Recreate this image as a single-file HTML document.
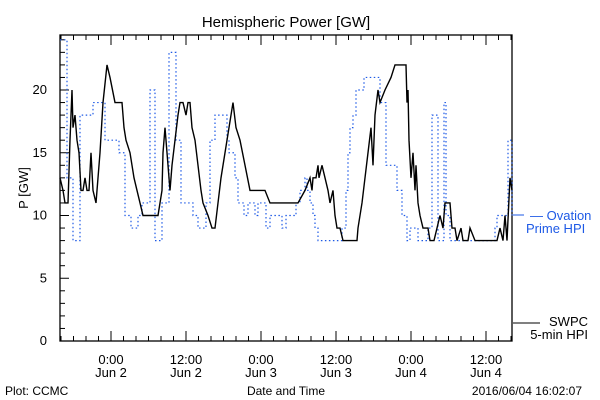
<!DOCTYPE html>
<html><head><meta charset="utf-8"><style>
html,body{margin:0;padding:0;background:#fff;}
svg{display:block;font-family:"Liberation Sans",sans-serif;}
</style></head><body>
<svg id="chart" width="600" height="400">
<text x="286" y="27" font-size="15" text-anchor="middle">Hemispheric Power [GW]</text>
<text x="28" y="188" font-size="13" text-anchor="middle" transform="rotate(-90 28 188)">P [GW]</text>
<text x="286" y="395" font-size="12" text-anchor="middle">Date and Time</text>
<text x="5" y="395" font-size="12">Plot: CCMC</text>
<text x="582" y="395" font-size="12" text-anchor="end">2016/06/04 16:02:07</text>
<g>
<line x1="513" y1="215" x2="524" y2="215" stroke="#1e5ae6" stroke-width="1"/>
<text x="530" y="220" font-size="13" fill="#1e5ae6">— Ovation</text>
<text x="526" y="233" font-size="13" fill="#1e5ae6">Prime HPI</text>
</g>
<g>
<line x1="513" y1="323" x2="540" y2="323" stroke="#000" stroke-width="1"/>
<text x="588" y="326" font-size="13" text-anchor="end">SWPC</text>
<text x="588" y="339" font-size="13" text-anchor="end">5-min HPI</text>
</g>
</svg>
<script>
const yTickLabels=[0,5,10,15,20];
const xTickHours=[0,12,24,36,48,60];
const xTickTimes=["0:00","12:00","0:00","12:00","0:00","12:00"];
const xTickDates=["Jun 2","Jun 2","Jun 3","Jun 3","Jun 4","Jun 4"];
const swpcTimes=[-8.16,-7.68,-7.36,-6.88,-6.56,-6.24,-6.08,-5.76,-5.44,-5.12,-4.8,-4.48,-4.16,-3.84,-3.52,-3.2,-2.88,-2.4,-2.24,-1.76,-1.28,-0.64,-0.16,0.64,1.76,2.08,2.4,3.04,3.68,4.16,4.64,5.12,7.52,8.16,8.32,8.64,8.96,9.28,9.44,9.76,10.24,10.72,11.04,11.52,12,12.32,12.64,12.96,13.44,13.92,14.4,14.72,15.52,16.16,16.64,17.12,17.6,18.24,18.88,19.52,20,20.64,21.44,22.24,24.64,25.44,29.92,31.04,31.84,32.16,32.32,32.8,33.12,33.28,33.76,34.24,34.72,35.04,35.52,35.84,36.16,36.64,37.12,39.36,39.52,40.16,40.64,41.12,41.6,41.92,42.24,42.72,43.04,43.84,44.8,45.44,47.2,47.36,47.52,47.68,48,48.32,48.64,48.8,49.12,49.44,49.92,50.72,51.04,51.68,52.16,52.64,53.12,53.44,54.24,54.56,55.04,55.36,56,56.32,57.12,57.44,58.24,61.76,62.24,62.72,63.04,63.36,63.84,64.16];
const swpcValues=[13,12,11,11,16,20,17,18,16,15,12,12,13,12,12,15,12,11,12,15,19,22,21,19,19,17,16,15,13,12,11,10,10,12,15,17,15,13,12,14,16,18,19,19,18,19,19,17,16,14,12,11,10,9,9,11,13,15,17,19,17,16,14,12,12,11,11,12,13,12,13,13,14,13,14,13,12,11,12,10,9,9,8,8,9,11,13,15,17,14,18,20,19,20,21,22,22,19,20,16,13,15,12,14,11,10,9,9,8,8,9,10,9,11,11,9,9,8,9,8,8,9,8,8,9,8,10,8,13,12];
const ovTimes=[-8.16,-7.04,-6.08,-4.96,-2.88,-0.96,1.28,2.24,3.2,4.32,4.96,6.24,7.04,8.16,9.28,10.4,11.2,13.12,13.92,15.2,15.84,16.64,18.56,18.88,19.84,20.32,21.28,21.92,23.04,23.52,24.8,25.44,27.36,28,29.6,30.24,31.04,31.36,31.84,32.32,32.64,33.12,36.96,37.6,37.92,38.24,38.72,39.2,40.48,42.24,43.04,44,45.76,46.56,47.36,47.84,49.12,50.72,51.36,52.32,53.28,53.6,54.24,61.44,61.76,63.52,64.16];
const ovValues=[24,13,8,18,19,16,15,10,9,10,11,20,8,11,23,16,11,10,9,11,16,18,16,15,13,11,10,11,10,11,9,10,9,10,11,12,13,12,11,10,9,8,9,12,15,17,18,20,21,21,19,14,12,10,8,9,8,9,18,8,19,10,8,9,10,16,10];

const NS="http://www.w3.org/2000/svg";
const svg=document.getElementById('chart');
const L=60,R=512,T=35,B=341;
const tMin=-8.16,tMax=64.16;
function xs(t){return L+(t-tMin)/(tMax-tMin)*(R-L);}
function ys(v){return B-v*12.55;}
function mk(tag,attrs){const e=document.createElementNS(NS,tag);for(const k in attrs)e.setAttribute(k,attrs[k]);svg.appendChild(e);return e;}

// axes frame
const frame=mk('rect',{x:L,y:T,width:R-L,height:B-T,fill:'none',stroke:'#000','stroke-width':1.3});



// y minor/major ticks
for(let v=0;v<=24;v++){
  const len=(v%5===0)?9:5;
  const tk=mk('line',{x1:L,x2:L+len,y1:ys(v),y2:ys(v),stroke:'#000'});
  
  
}
yTickLabels.forEach(v=>{
  const t=mk('text',{x:L-13,y:ys(v)+4,'font-size':13,'text-anchor':'end'});
  t.textContent=v;
  
  
});
// x ticks
for(let h=-8;h<=64;h+=2){
  const major=(h%12===0);
  const len=major?10:5;
  const a=mk('line',{x1:xs(h),x2:xs(h),y1:B,y2:B-len,stroke:'#000'});
  
  
  const b=mk('line',{x1:xs(h),x2:xs(h),y1:T,y2:T+len,stroke:'#000'});
  
  
}
xTickHours.forEach((h,i)=>{
  const t1=mk('text',{x:xs(h),y:364,'font-size':13,'text-anchor':'middle'});
  t1.textContent=xTickTimes[i];
  
  
  const t2=mk('text',{x:xs(h),y:377,'font-size':13,'text-anchor':'middle'});
  t2.textContent=xTickDates[i];
  
  
});

// ovation step line
let d='';
for(let i=0;i<ovTimes.length;i++){
  const x=xs(ovTimes[i]),y=ys(ovValues[i]);
  if(i===0)d+='M'+x+' '+y;else d+='H'+x+'V'+y;
  if(i===ovTimes.length-1)d+='H'+x;
}
const ov=mk('path',{d:d,fill:'none',stroke:'#1e5ae6','stroke-width':1.2,'stroke-dasharray':'1.5 2.5'});



// swpc line
let d2='';
for(let i=0;i<swpcTimes.length;i++){
  const x=xs(swpcTimes[i]),y=ys(swpcValues[i]);
  d2+=(i===0?'M':'L')+x+' '+y;
}
const sw=mk('path',{d:d2,fill:'none',stroke:'#000','stroke-width':1.4});


</script>
</body></html>
